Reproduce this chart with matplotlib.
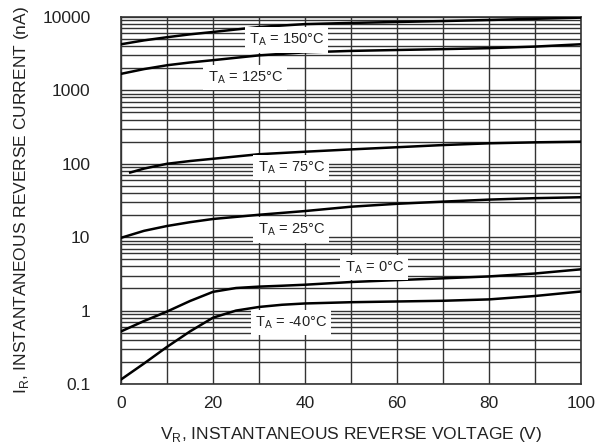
import matplotlib
matplotlib.use('Agg')
import matplotlib.pyplot as plt
from matplotlib.ticker import LogLocator, NullFormatter, FixedLocator
import numpy as np

plt.rcParams['font.family'] = ['Liberation Sans', 'DejaVu Sans']
plt.rcParams['mathtext.fontset'] = 'custom'
plt.rcParams['mathtext.rm'] = 'Liberation Sans'

# reverse voltage (V) and leakage current (nA)
volts = [0, 5, 10, 15, 20, 30, 40, 50, 60, 70, 80, 90, 100]
i_150 = [4250, 4800, 5300, 5800, 6250, 7300, 8000, 8300, 8550, 8800, 9100, 9450, 9800]
i_125 = [1680, 1950, 2200, 2400, 2580, 3000, 3300, 3450, 3550, 3650, 3760, 3950, 4250]
i_25 = [9.8, 12.2, 14.2, 16.0, 17.7, 20.2, 22.7, 26.0, 28.5, 30.5, 32.5, 34.0, 35.0]

v_75 = [2, 5, 10, 15, 20, 30, 40, 50, 60, 70, 80, 90, 100]
i_75 = [76, 86, 100, 109, 117, 135, 146, 157, 168, 180, 190, 196, 200]

v_low = [0, 5, 10, 15, 20, 25, 30, 35, 40, 50, 60, 70, 80, 90, 100]
i_0 = [0.52, 0.72, 0.97, 1.35, 1.8, 2.03, 2.12, 2.18, 2.25, 2.45, 2.6, 2.75, 2.92, 3.2, 3.65]
i_m40 = [0.115, 0.19, 0.32, 0.52, 0.8, 1.0, 1.12, 1.2, 1.25, 1.3, 1.33, 1.36, 1.42, 1.58, 1.82]

curves = [(volts, i_150), (volts, i_125), (v_75, i_75),
          (volts, i_25), (v_low, i_0), (v_low, i_m40)]

# curve labels: temperature, x, y
labels = [('150', 36, 4850), ('125', 27, 1500), ('75', 37, 88),
          ('25', 37, 12.5), ('0', 55, 3.9), ('-40', 37, 0.69)]

fig = plt.figure(figsize=(5.99, 4.47), dpi=100)
ax = fig.add_axes([0.202, 0.141, 0.768, 0.821])

ax.set_yscale('log')
ax.set_xlim(0, 100)
ax.set_ylim(0.1, 10000)

ax.xaxis.set_major_locator(FixedLocator([0, 20, 40, 60, 80, 100]))
ax.xaxis.set_minor_locator(FixedLocator(np.arange(0, 101, 10)))
ax.yaxis.set_minor_locator(LogLocator(base=10, subs=np.arange(2, 10), numticks=20))
ax.yaxis.set_minor_formatter(NullFormatter())
ax.set_yticks([0.1, 1, 10, 100, 1000, 10000])
ax.set_yticklabels(['0.1', '1', '10', '100', '1000', '10000'])

ax.grid(True, which='both', color='#333333', linewidth=1.0)
ax.tick_params(which='both', length=0)
ax.tick_params(axis='y', pad=22, labelsize=12.5, colors='#222222')
ax.tick_params(axis='x', pad=9, labelsize=12.5, colors='#222222')
for s in ax.spines.values():
    s.set_color('#333333')
    s.set_linewidth(1.2)

for v, i in curves:
    ax.plot(v, i, color='black', linewidth=1.8, zorder=3)

for t, x, y in labels:
    ax.text(x, y, r'T$_\mathregular{A}$ = ' + t + '°C', fontsize=10.5,
            ha='center', va='center', zorder=4, color='#222222',
            bbox=dict(facecolor='white', edgecolor='none', pad=3))

ax.set_xlabel(r'V$_\mathregular{R}$, INSTANTANEOUS REVERSE VOLTAGE (V)',
              fontsize=12.5, color='#222222', labelpad=10)
ax.set_ylabel(r'I$_\mathregular{R}$, INSTANTANEOUS REVERSE CURRENT (nA)',
              fontsize=12.5, color='#222222', labelpad=8)

fig.savefig('out.png', dpi=100)
